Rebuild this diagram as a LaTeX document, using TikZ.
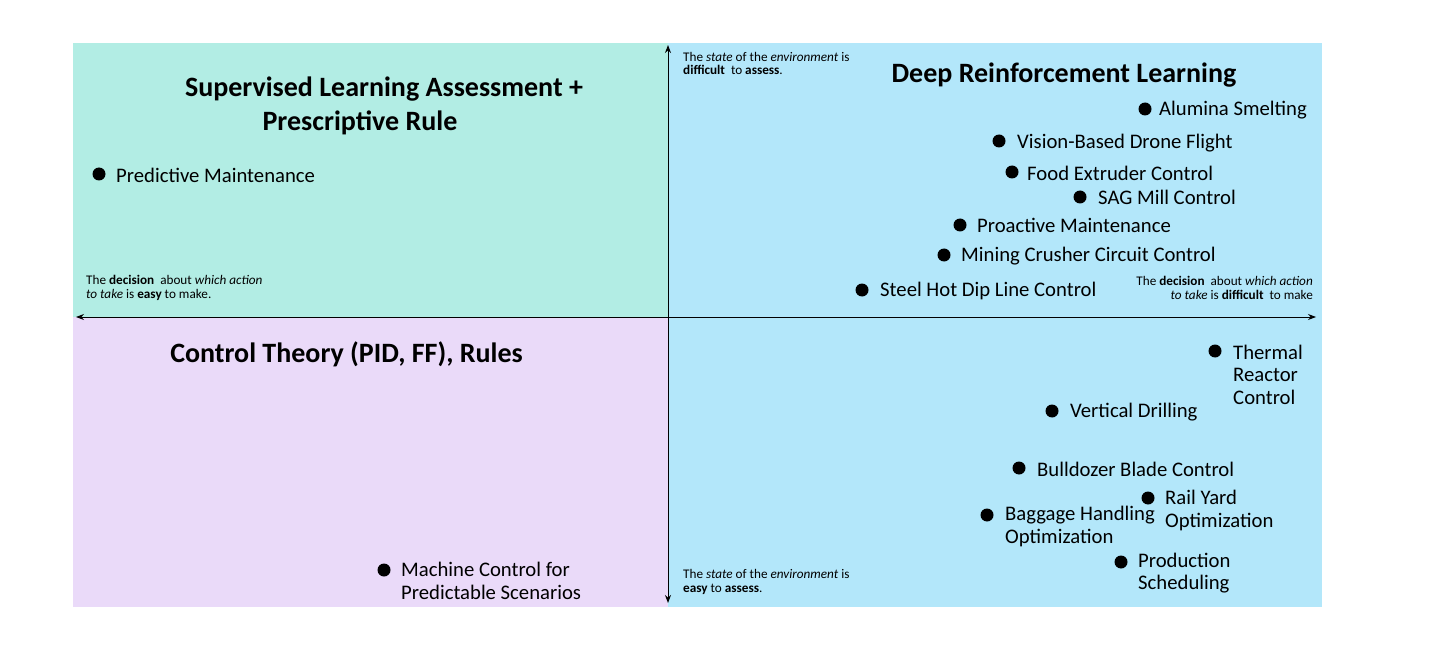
\documentclass[tikz,border=0pt]{standalone}
\usepackage{fontspec}
\setmainfont{Carlito}
\usetikzlibrary{arrows.meta}
\definecolor{quadteal}{RGB}{178,237,228}
\definecolor{quadblue}{RGB}{179,231,250}
\definecolor{quadlilac}{RGB}{234,218,249}
\begin{document}
\begin{tikzpicture}[x=1pt,y=-1pt,
  dot/.style={circle,fill=black,inner sep=0pt,minimum size=13pt},
  item/.style={anchor=west,inner sep=0pt,align=left,yshift=-1.5pt,font=\fontsize{20.7}{22.5}\selectfont},
  quadtitle/.style={inner sep=0pt,yshift=-2pt,font=\fontsize{28}{34}\selectfont\bfseries},
  note/.style={inner sep=0pt,font=\fontsize{13.2}{13.6}\selectfont},
  axis/.style={line width=1pt,{Stealth[length=8pt,width=6pt]}-{Stealth[length=8pt,width=6pt]}}]
\useasboundingbox (0,0) rectangle (1431,660);
% quadrant backgrounds
\fill[quadteal] (73,43) rectangle (668,317);
\fill[quadblue] (668,43) rectangle (1322,317);
\fill[quadlilac] (73,317) rectangle (668,607);
\fill[quadblue] (668,317) rectangle (1322,607);
% axes
\coordinate (xl) at (76,317);
\coordinate (xr) at (1316,317);
\coordinate (yt) at (668,45);
\coordinate (yb) at (668,603);
\draw[axis] (xl) -- (xr);
\draw[axis] (yt) -- (yb);
% quadrant titles
\node[quadtitle] (tsl1) at (384,87) {Supervised Learning Assessment +};
\node[quadtitle] (tsl2) at (360,121) {Prescriptive Rule};
\node[quadtitle] (tdrl) at (1064,73) {Deep Reinforcement Learning};
\node[quadtitle] (tct) at (346.5,352) {Control Theory (PID, FF), Rules};
% axis notes
\node[note,anchor=west,align=left] (ntop) at (683,63.5) {The \textit{state} of the \textit{environment} is\\\textbf{difficult}\ \ to \textbf{assess}.};
\node[note,anchor=west,align=left] (nbot) at (683,582) {The \textit{state} of the \textit{environment} is\\\textbf{easy} to \textbf{assess}.};
\node[note,anchor=west,align=left] (nleft) at (86,288) {The \textbf{decision}\ \ about \textit{which action}\\\textit{to take} is \textbf{easy} to make.};
\node[note,anchor=east,align=right] (nright) at (1313,288) {The \textbf{decision}\ \ about \textit{which action}\\\textit{to take} is \textbf{difficult}\ \ to make};
% applications
\node[dot] (d1) at (99,174) {};
\node[item] (l1) at (116,174) {Predictive Maintenance};
\node[dot] (d2) at (1145,109) {};
\node[item] (l2) at (1159,109) {Alumina Smelting};
\node[dot] (d3) at (999,141) {};
\node[item] (l3) at (1017,142) {Vision-Based Drone Flight};
\node[dot] (d4) at (1012,172) {};
\node[item] (l4) at (1027,172) {Food Extruder Control};
\node[dot] (d5) at (1080,197) {};
\node[item] (l5) at (1098,196) {SAG Mill Control};
\node[dot] (d6) at (960,225) {};
\node[item] (l6) at (977,224) {Proactive Maintenance};
\node[dot] (d7) at (944,255) {};
\node[item] (l7) at (961,255) {Mining Crusher Circuit Control};
\node[dot] (d8) at (862,290) {};
\node[item] (l8) at (880,289) {Steel Hot Dip Line Control};
\node[dot] (d9) at (1215,351) {};
\node[item] (l9) at (1233,373) {Thermal\\Reactor\\Control};
\node[dot] (d10) at (1052,411) {};
\node[item] (l10) at (1070,411) {Vertical Drilling};
\node[dot] (d11) at (1019,468) {};
\node[item] (l11) at (1037,468) {Bulldozer Blade Control};
\node[dot] (d12) at (1148,498) {};
\node[item] (l12) at (1165,509) {Rail Yard\\Optimization};
\node[dot] (d13) at (987,515) {};
\node[item] (l13) at (1005,525) {Baggage Handling\\Optimization};
\node[dot] (d14) at (1121,562) {};
\node[item] (l14) at (1138,571.5) {Production\\Scheduling};
\node[dot] (d15) at (384,570) {};
\node[item] (l15) at (401,579.5) {Machine Control for\\Predictable Scenarios};
\end{tikzpicture}
\end{document}
